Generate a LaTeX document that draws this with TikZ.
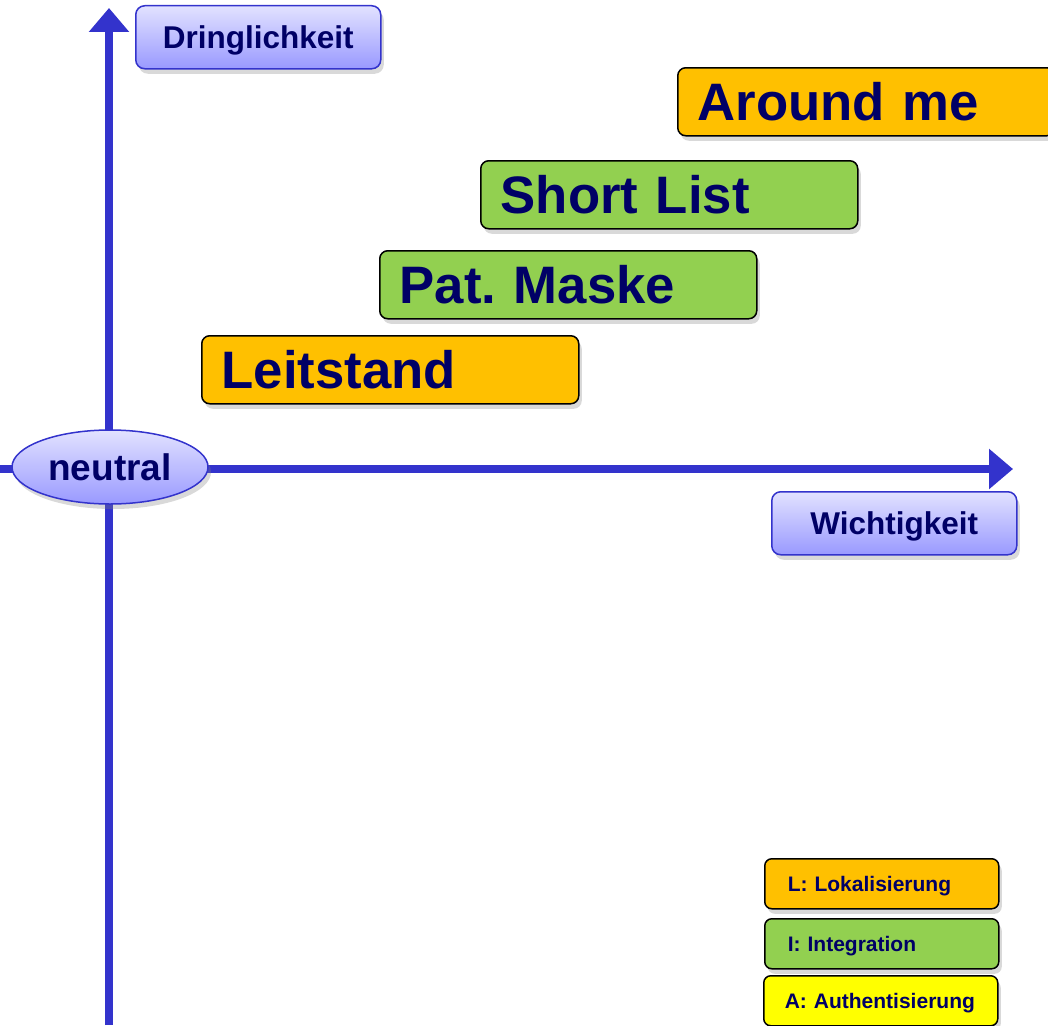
\documentclass[tikz,border=0pt]{standalone}
\usepackage{fontspec}
\setmainfont{Liberation Sans}
\usetikzlibrary{arrows.meta,shapes.geometric,shadows}

\definecolor{axisblue}{HTML}{3333CC}
\definecolor{labtop}{HTML}{E2E2FF}
\definecolor{labbot}{HTML}{9999FF}
\definecolor{navytext}{HTML}{000066}
\definecolor{lokal}{HTML}{FFC000}
\definecolor{integ}{HTML}{92D050}
\definecolor{authy}{HTML}{FFFF00}

\tikzset{
  axis/.style={draw=axisblue, line width=7.5pt, -{Triangle[length=24pt,width=39pt]}},
  boxshadow/.style={drop shadow={opacity=0.3, shadow xshift=3pt, shadow yshift=-5pt}},
  axlabel/.style={boxshadow, rectangle, rounded corners=9pt, draw=axisblue, line width=1.5pt,
    top color=labtop, bottom color=labbot, text=navytext,
    font=\fontsize{31.5}{36}\selectfont\bfseries, text height=22.5pt, text depth=0pt,
    minimum width=245pt, minimum height=63pt, inner sep=0pt, anchor=north west},
  feature/.style={boxshadow, rectangle, rounded corners=8pt, draw=black, line width=1.5pt,
    text=navytext, font=\fontsize{52.7}{60}\selectfont\bfseries\frenchspacing, text height=37.7pt, text depth=0pt,
    minimum height=68pt, text width=337pt, inner xsep=20pt, inner ysep=0pt,
    align=left, anchor=north west},
  legendbox/.style={boxshadow, rectangle, rounded corners=7pt, draw=black, line width=1.5pt,
    text=navytext, font=\fontsize{21}{25}\selectfont\bfseries, text height=15pt, text depth=0pt,
    minimum height=50pt, text width=192pt, inner xsep=21pt, inner ysep=0pt,
    align=left, anchor=north west}
}

\begin{document}
\begin{tikzpicture}[x=1pt,y=-1pt]
    \useasboundingbox (0,0) rectangle (1048,1025);
    % axes
    \coordinate (ybot) at (109,1025);
    \coordinate (ytop) at (109,8);
    \coordinate (xleft) at (0,469);
    \coordinate (xright) at (1013,469);
    \draw[axis] (ybot) to (ytop);
    \draw[axis] (xleft) to (xright);
    \node[boxshadow, ellipse, draw=axisblue, line width=1.5pt, top color=labtop, bottom color=labbot,
        minimum width=196pt, minimum height=74pt, inner sep=0pt, text=navytext,
        font=\fontsize{37}{42}\selectfont\bfseries, text height=26.5pt, text depth=0pt] at (110,467) (neutral) {neutral};
    \node[axlabel] at (135,5) (dring) {Dringlichkeit};
    \node[axlabel] at (771,491) (wicht) {Wichtigkeit};
    % features
    \node[feature, fill=lokal] at (677,67) (around) {Around~me};
    \node[feature, fill=integ] at (480,160) (short) {Short~List};
    \node[feature, fill=integ] at (379,250) (patmask) {Pat.~Maske};
    \node[feature, fill=lokal] at (201,335) (leit) {Leitstand};
    % legend
    \node[legendbox, fill=lokal] at (764,858) (legl) {\hspace*{2pt}L:~Lokalisierung};
    \node[legendbox, fill=integ] at (764,918) (legi) {\hspace*{2pt}I:~Integration};
    \node[legendbox, fill=authy] at (763,975) (lega) {A:~Authentisierung};
\end{tikzpicture}
\end{document}
